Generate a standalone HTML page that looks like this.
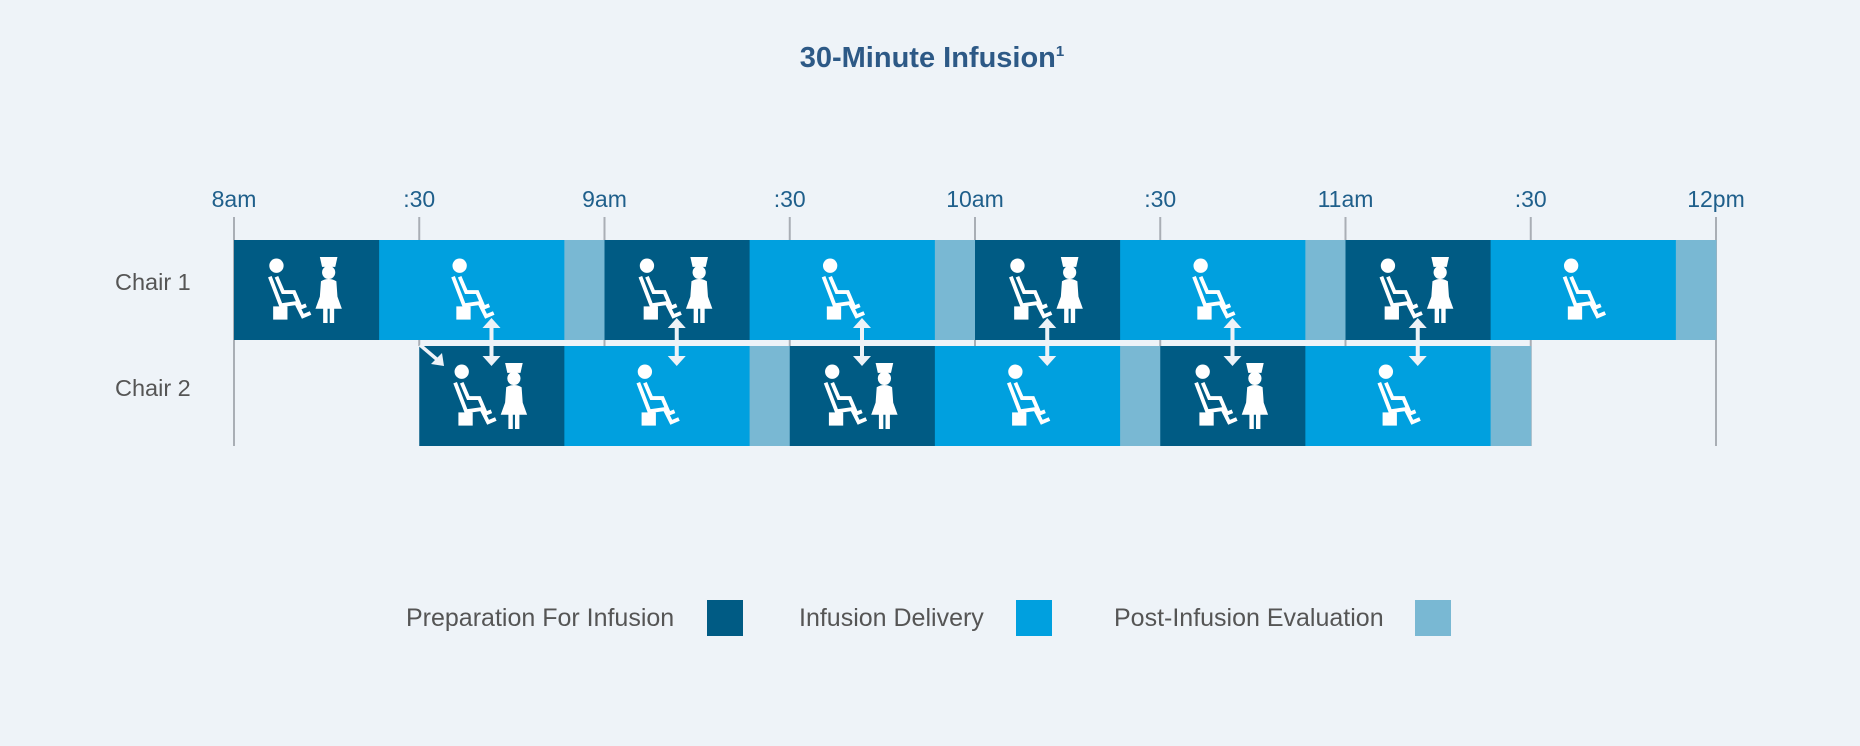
<!DOCTYPE html>
<html><head><meta charset="utf-8">
<style>
html,body{margin:0;padding:0;background:#eef3f8;}
svg{display:block;font-family:"Liberation Sans",sans-serif;}
</style></head>
<body>
<svg id="chart" width="1860" height="746" viewBox="0 0 1860 746" xmlns="http://www.w3.org/2000/svg">
<defs>
<g id="patient">
  <circle cx="9" cy="7" r="6.5" fill="#fff"/>
  <path d="M3 17 L13 43 L27 41 L33 53 L40 50" fill="none" stroke="#fff" stroke-width="3.5" stroke-linejoin="miter"/>
  <path d="M9 17 L15 31 L25 31 L31 45 L36 43" fill="none" stroke="#fff" stroke-width="3.5"/>
  <rect x="6" y="44" width="13" height="12" fill="#fff"/>
</g>
<g id="nurse">
  <path d="M3 0 L19 0 L17 9 L5 9 Z" fill="#fff"/>
  <circle cx="11" cy="14" r="6" fill="#fff"/>
  <path d="M4 22 Q11 18 18 22 L19 36 L23 47 L-1 47 L3 36 Z" fill="#fff"/>
  <rect x="6" y="46" width="4" height="14" fill="#fff"/>
  <rect x="12" y="46" width="4" height="14" fill="#fff"/>
</g>
</defs>
<rect width="1860" height="746" fill="#eef3f8"/>
<text x="932" y="67" text-anchor="middle" font-size="29" font-weight="bold" fill="#2d5986">30-Minute Infusion<tspan font-size="15" dy="-11">1</tspan></text>
<g id="grid"></g>
<g id="ticks"></g>
<g id="bars"></g>
<g id="arrows"></g>
<text x="115" y="290" font-size="23.5" fill="#555">Chair 1</text>
<text x="115" y="396" font-size="23.5" fill="#555">Chair 2</text>
<path d="M420 345 L440 362" stroke="#eef3f8" stroke-width="3.5"/>
<path d="M444 366 L431 364 L442 353 Z" fill="#eef3f8"/>
<g>
  <text x="406" y="626" font-size="25" fill="#555">Preparation For Infusion</text>
  <rect x="707" y="600" width="36" height="36" fill="#005b84"/>
  <text x="799" y="626" font-size="25" fill="#555">Infusion Delivery</text>
  <rect x="1016" y="600" width="36" height="36" fill="#00a0df"/>
  <text x="1114" y="626" font-size="25" fill="#555">Post-Infusion Evaluation</text>
  <rect x="1415" y="600" width="36" height="36" fill="#79b8d3"/>
</g>
</svg>
<script>
const tickLabels = ["8am", ":30", "9am", ":30", "10am", ":30", "11am", ":30", "12pm"];
const tickMinutes = [0, 30, 60, 90, 120, 150, 180, 210, 240];
const chairs = ["Chair 1", "Chair 2"];
const chair1Starts = [0, 60, 120, 180];
const chair2Starts = [30, 90, 150];
const prepMinutes = [23.5];
const deliveryMinutes = [30];
const evalMinutes = [6.5];
const swapArrowMinutes = [41.7, 71.7, 101.7, 131.7, 161.7, 191.7];

const NS = "http://www.w3.org/2000/svg";
const x0 = 234, pxPerMin = 1482 / 240;
function xs(m){ return x0 + m * pxPerMin; }
const rowTop = [240, 346], rowH = 100;
function el(tag, attrs, parent){
  const e = document.createElementNS(NS, tag);
  for (const k in attrs) e.setAttribute(k, attrs[k]);
  parent.appendChild(e); return e;
}
const grid = document.getElementById('grid');
const ticks = document.getElementById('ticks');
tickMinutes.forEach((m, i) => {
  const x = xs(m);
  const full = (i === 0 || i === tickMinutes.length - 1 || i === 7);
  const ln = el('line', {x1:x, x2:x, y1:217, y2: full ? 446 : 346, stroke:'#a9aeb5', 'stroke-width':2}, grid);
  
  
  const t = el('text', {x:x, y:207, 'text-anchor':'middle', 'font-size':23, fill:'#1f5f8b'}, ticks);
  t.textContent = tickLabels[i];
  
  
});
const bars = document.getElementById('bars');
function drawCycle(start, row){
  const y = rowTop[row];
  const p = prepMinutes[0], d = deliveryMinutes[0], e = evalMinutes[0];
  const segs = [[start, p, '#005b84', 'prep'], [start + p, d, '#00a0df', 'delivery'], [start + p + d, e, '#79b8d3', 'evaluation']];
  segs.forEach(s => {
    const r = el('rect', {x: xs(s[0]), y: y, width: xs(s[0] + s[1]) - xs(s[0]) + 0.5, height: rowH, fill: s[2]}, bars);
    
    
  });
  const cxP = (xs(start) + xs(start + p)) / 2;
  const u1 = el('use', {href:'#patient', transform:`translate(${cxP - 40},${y + 18}) scale(1.1)`}, bars);
  
  
  const u2 = el('use', {href:'#nurse', transform:`translate(${cxP + 10},${y + 17}) scale(1.1)`}, bars);
  
  
  const cxD = (xs(start + p) + xs(start + p + d)) / 2;
  const u3 = el('use', {href:'#patient', transform:`translate(${cxD - 22},${y + 18}) scale(1.1)`}, bars);
  
  
}
chair1Starts.forEach(s => drawCycle(s, 0));
chair2Starts.forEach(s => drawCycle(s, 1));
const arrows = document.getElementById('arrows');
swapArrowMinutes.forEach(m => {
  const x = xs(m);
  const g = el('g', {fill:'#eef3f8'}, arrows);
  
  
  el('rect', {x: x - 2, y: 325, width: 4, height: 34}, g);
  el('path', {d: `M${x-9} 328 L${x} 318 L${x+9} 328 Z`}, g);
  el('path', {d: `M${x-9} 356 L${x} 366 L${x+9} 356 Z`}, g);
});
</script>
</body></html>
